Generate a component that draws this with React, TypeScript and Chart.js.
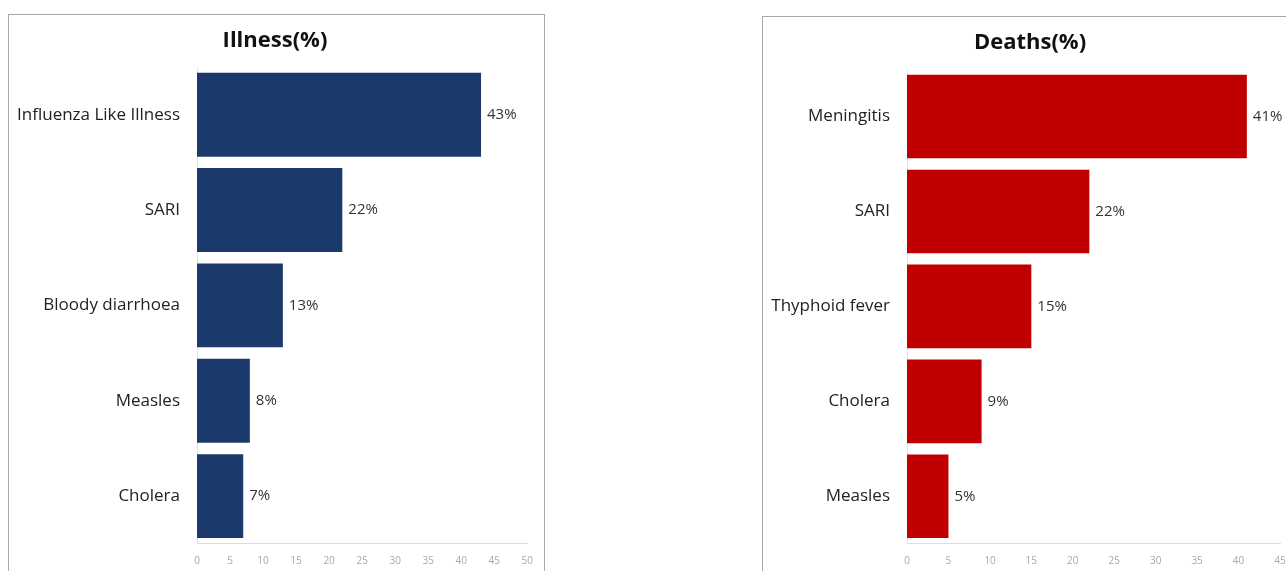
import React, { useEffect, useRef } from "react";
import { Chart, registerables } from "chart.js";

Chart.register(...registerables);

const illnessCategories = ["Influenza Like Illness", "SARI", "Bloody diarrhoea", "Measles", "Cholera"];
const illnessValues = [43, 22, 13, 8, 7];
const illnessTitle = "Illness(%)";

const deathCategories = ["Meningitis", "SARI", "Thyphoid fever", "Cholera", "Measles"];
const deathValues = [41, 22, 15, 9, 5];
const deathTitle = "Deaths(%)";

const FONT = "'Open Sans', Lato, sans-serif";

const valueLabels = {
  id: "valueLabels",
  afterDatasetsDraw(chart: any) {
    const ctx = chart.ctx;
    ctx.save();
    ctx.font = `15px ${FONT}`;
    ctx.fillStyle = "#333";
    ctx.textBaseline = "middle";
    ctx.textAlign = "left";
    const meta = chart.getDatasetMeta(0);
    const data = chart.data.datasets[0].data;
    meta.data.forEach((el: any, i: number) => {
      ctx.fillText(`${data[i]}%`, el.x + 6, el.y);
    });
    ctx.restore();
  },
};

const titleDraw = {
  id: "titleDraw",
  afterDraw(chart: any) {
    const t = chart.options.plugins.titleDraw;
    const ctx = chart.ctx;
    ctx.save();
    ctx.font = `bold 22px ${FONT}`;
    ctx.fillStyle = "#111";
    ctx.textAlign = "center";
    ctx.textBaseline = "middle";
    ctx.fillText(t.text, t.x, t.y);
    ctx.restore();
  },
};

type PanelProps = {
  categories: string[];
  values: number[];
  title: string;
  color: string;
  xMax: number;
  yAxisWidth: number;
  padRight: number;
  w: number;
  h: number;
  titleX: number;
};

function Panel({ categories, values, title, color, xMax, yAxisWidth, padRight, w, h, titleX }: PanelProps) {
  const ref = useRef<HTMLCanvasElement>(null);
  useEffect(() => {
    if (!ref.current) return;
    const chart = new Chart(ref.current, {
      type: "bar",
      data: {
        labels: categories,
        datasets: [
          {
            data: values,
            backgroundColor: color,
            borderWidth: 0,
            barPercentage: 0.88,
            categoryPercentage: 1,
          },
        ],
      },
      options: {
        indexAxis: "y",
        animation: false,
        responsive: false,
        maintainAspectRatio: false,
        devicePixelRatio: 1,
        layout: { padding: { left: 0, right: padRight, top: 52, bottom: 0 } },
        plugins: {
          legend: { display: false },
          tooltip: { enabled: false },
          title: { display: false },
          titleDraw: { text: title, x: titleX, y: 26 },
        } as any,
        scales: {
          x: {
            min: 0,
            max: xMax,
            ticks: {
              stepSize: 5,
              color: "#a8a8a8",
              font: { family: FONT, size: 10 },
              padding: 11,
            },
            grid: { display: false, drawTicks: false },
            border: { display: true, color: "#ddd" },
            afterFit: (s: any) => {
              s.height = 26;
            },
          },
          y: {
            ticks: {
              color: "#222",
              font: { family: FONT, size: 17 },
              padding: 17,
            },
            grid: { display: false, drawTicks: false },
            border: { display: true, color: "#e4e4e4" },
            afterFit: (s: any) => {
              s.width = yAxisWidth;
            },
          },
        },
      },
      plugins: [valueLabels, titleDraw],
    });
    return () => chart.destroy();
  }, []);
  return <canvas ref={ref} width={w} height={h} style={{ display: "block", width: w, height: h }} />;
}

export default function App() {
  return (
    <div style={{ position: "absolute", left: 0, top: 0, width: 1286, height: 571, background: "#fff", overflow: "hidden" }}>
      <div
        style={{
          position: "absolute",
          left: 8,
          top: 14,
          width: 535,
          height: 571 - 15,
          borderTop: "1px solid #a8a8a8",
          borderLeft: "1px solid #a8a8a8",
          borderRight: "1px solid #a8a8a8",
        }}
      >
        <Panel
          categories={illnessCategories}
          values={illnessValues}
          title={illnessTitle}
          color="#1b3a6b"
          xMax={50}
          yAxisWidth={188}
          padRight={16}
          w={535}
          h={556}
          titleX={266}
        />
      </div>
      <div
        style={{
          position: "absolute",
          left: 762,
          top: 16,
          width: 540,
          height: 571 - 17,
          borderTop: "1px solid #a8a8a8",
          borderLeft: "1px solid #a8a8a8",
        }}
      >
        <Panel
          categories={deathCategories}
          values={deathValues}
          title={deathTitle}
          color="#c00000"
          xMax={45}
          yAxisWidth={144}
          padRight={23}
          w={540}
          h={554}
          titleX={267}
        />
      </div>
    </div>
  );
}
